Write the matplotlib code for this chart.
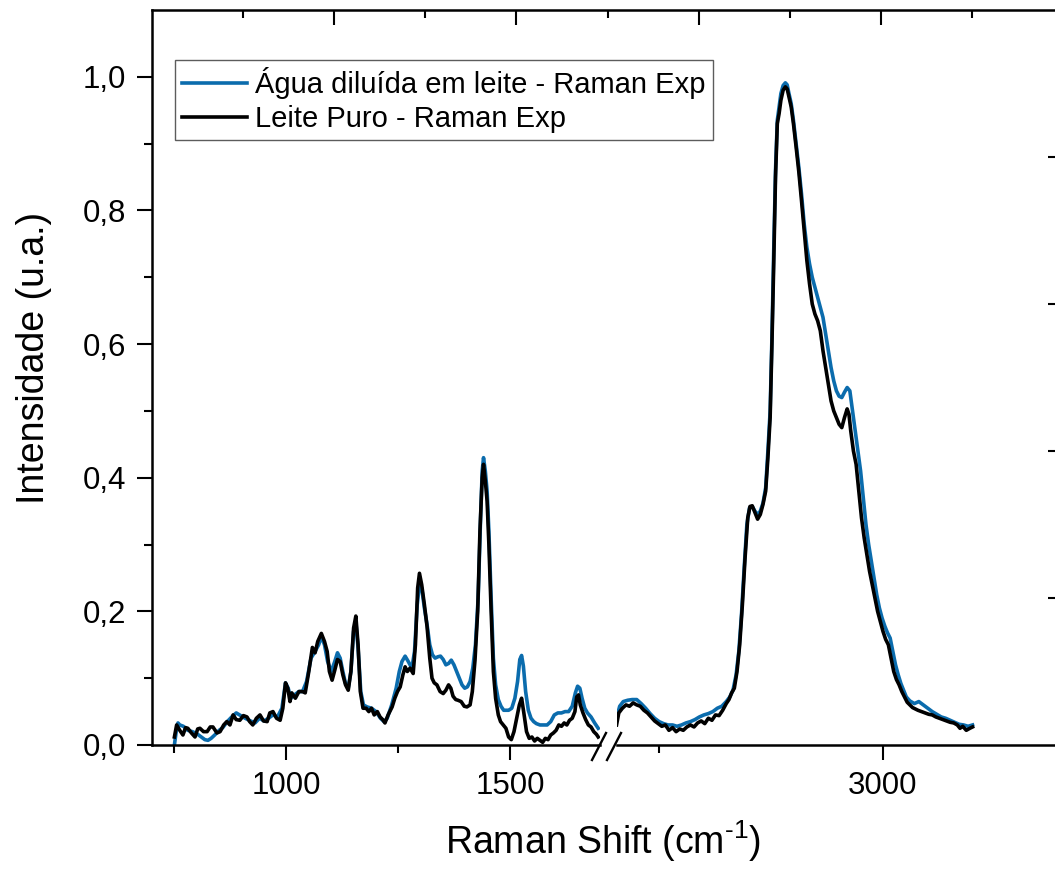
import matplotlib
matplotlib.use('Agg')
import matplotlib.pyplot as plt
from matplotlib.lines import Line2D
from matplotlib.ticker import FixedLocator, FixedFormatter

plt.rcParams['font.family'] = ['Liberation Sans', 'DejaVu Sans']
plt.rcParams['mathtext.fontset'] = 'custom'
plt.rcParams['mathtext.rm'] = 'Liberation Sans'
plt.rcParams['mathtext.it'] = 'Liberation Sans:italic'
plt.rcParams['axes.unicode_minus'] = False

# ---------------- data ----------------
label_agua = 'Água diluída em leite - Raman Exp'
label_leite = 'Leite Puro - Raman Exp'
xlabel = r'Raman Shift (cm$^{\text{-1}}$)'
ylabel = 'Intensidade (u.a.)'

# low-wavenumber region (cm-1)
agua_low_x = [750, 754, 758, 762, 770, 780, 790, 800, 810, 818, 825, 832, 840, 850, 858, 868, 878, 888,
              898, 908, 920, 930, 940, 950, 960, 970, 980, 990, 998, 1004, 1010, 1018, 1028, 1036, 1045,
              1055, 1064, 1072, 1078, 1085, 1092, 1100, 1108, 1114, 1120, 1126, 1132, 1138, 1144, 1150,
              1155, 1160, 1166, 1172, 1180, 1190, 1200, 1210, 1218, 1225, 1235, 1245, 1252, 1258, 1265,
              1272, 1280, 1286, 1292, 1297, 1302, 1308, 1314, 1320, 1326, 1332, 1338, 1344, 1350, 1356,
              1362, 1368, 1374, 1380, 1386, 1392, 1398, 1404, 1410, 1416, 1422, 1428, 1433, 1437, 1440,
              1444, 1448, 1452, 1457, 1462, 1467, 1473, 1479, 1485, 1490, 1496, 1503, 1510, 1516, 1521,
              1525, 1529, 1534, 1540, 1546, 1552, 1558, 1566, 1574, 1582, 1590, 1598, 1606, 1614, 1622,
              1630, 1638, 1645, 1650, 1655, 1660, 1666, 1672, 1680, 1688, 1696]
agua_low_y = [0.000, 0.020, 0.033, 0.030, 0.028, 0.022, 0.020, 0.017, 0.012, 0.008, 0.007, 0.010, 0.015,
              0.022, 0.026, 0.035, 0.042, 0.048, 0.044, 0.040, 0.036, 0.033, 0.040, 0.036, 0.040, 0.045,
              0.042, 0.055, 0.093, 0.085, 0.070, 0.075, 0.080, 0.080, 0.095, 0.130, 0.140, 0.150, 0.162,
              0.150, 0.125, 0.110, 0.125, 0.138, 0.130, 0.110, 0.092, 0.085, 0.110, 0.170, 0.185, 0.145,
              0.080, 0.060, 0.057, 0.055, 0.050, 0.040, 0.035, 0.040, 0.060, 0.085, 0.110, 0.125, 0.133,
              0.125, 0.115, 0.140, 0.210, 0.240, 0.235, 0.205, 0.180, 0.150, 0.135, 0.130, 0.132, 0.133,
              0.128, 0.120, 0.122, 0.127, 0.120, 0.110, 0.100, 0.090, 0.085, 0.087, 0.095, 0.115, 0.150,
              0.220, 0.330, 0.410, 0.430, 0.410, 0.380, 0.320, 0.220, 0.130, 0.090, 0.068, 0.058, 0.052,
              0.052, 0.052, 0.055, 0.070, 0.095, 0.128, 0.134, 0.118, 0.080, 0.052, 0.040, 0.035, 0.032,
              0.030, 0.030, 0.030, 0.035, 0.045, 0.048, 0.048, 0.050, 0.050, 0.058, 0.078, 0.088, 0.085,
              0.070, 0.055, 0.048, 0.042, 0.033, 0.025]

leite_low_x = [750, 755, 762, 769, 775, 780, 788, 796, 802, 807, 815, 823, 830, 836, 845, 852, 860, 867,
               874, 881, 888, 896, 904, 912, 918, 925, 933, 941, 949, 957, 963, 970, 978, 986, 992, 998,
               1003, 1008, 1012, 1020, 1028, 1036, 1042, 1050, 1058, 1064, 1070, 1078, 1085, 1091, 1096,
               1102, 1108, 1114, 1120, 1126, 1132, 1138, 1144, 1150, 1155, 1160, 1165, 1171, 1178, 1184,
               1190, 1196, 1203, 1209, 1215, 1220, 1227, 1236, 1242, 1248, 1254, 1260, 1265, 1270, 1276,
               1283, 1288, 1293, 1297, 1302, 1308, 1314, 1320, 1325, 1330, 1336, 1343, 1350, 1356, 1362,
               1367, 1372, 1378, 1383, 1390, 1397, 1403, 1410, 1415, 1421, 1427, 1432, 1437, 1440, 1444,
               1448, 1452, 1457, 1462, 1467, 1473, 1478, 1484, 1490, 1496, 1502, 1508, 1514, 1520, 1525,
               1530, 1536, 1542, 1548, 1554, 1560, 1566, 1572, 1578, 1584, 1590, 1596, 1602, 1608, 1614,
               1620, 1626, 1632, 1638, 1644, 1648, 1652, 1656, 1662, 1668, 1674, 1680, 1686, 1692, 1696]
leite_low_y = [0.012, 0.030, 0.022, 0.015, 0.026, 0.025, 0.018, 0.012, 0.024, 0.025, 0.020, 0.020, 0.027,
               0.027, 0.018, 0.020, 0.030, 0.035, 0.030, 0.045, 0.038, 0.037, 0.044, 0.042, 0.035, 0.030,
               0.040, 0.045, 0.036, 0.035, 0.048, 0.050, 0.040, 0.037, 0.055, 0.093, 0.085, 0.065, 0.078,
               0.070, 0.080, 0.080, 0.078, 0.110, 0.146, 0.138, 0.155, 0.167, 0.155, 0.140, 0.110, 0.097,
               0.112, 0.128, 0.125, 0.105, 0.090, 0.082, 0.110, 0.175, 0.193, 0.150, 0.080, 0.055, 0.055,
               0.050, 0.055, 0.045, 0.050, 0.042, 0.038, 0.033, 0.045, 0.057, 0.070, 0.080, 0.087, 0.105,
               0.117, 0.110, 0.115, 0.107, 0.150, 0.235, 0.257, 0.240, 0.210, 0.177, 0.130, 0.100, 0.093,
               0.090, 0.080, 0.077, 0.082, 0.090, 0.085, 0.073, 0.068, 0.067, 0.065, 0.058, 0.057, 0.060,
               0.080, 0.127, 0.200, 0.320, 0.400, 0.420, 0.395, 0.365, 0.300, 0.200, 0.110, 0.070, 0.045,
               0.035, 0.030, 0.025, 0.012, 0.008, 0.020, 0.040, 0.060, 0.070, 0.048, 0.020, 0.010, 0.012,
               0.006, 0.010, 0.007, 0.004, 0.010, 0.008, 0.015, 0.018, 0.022, 0.030, 0.028, 0.033, 0.030,
               0.037, 0.040, 0.050, 0.072, 0.075, 0.060, 0.048, 0.038, 0.030, 0.027, 0.020, 0.016, 0.012]

# high-wavenumber region (cm-1)
agua_high_x = [2405, 2412, 2420, 2430, 2440, 2450, 2460, 2470, 2480, 2490, 2500, 2510, 2520, 2530, 2540,
               2550, 2560, 2570, 2580, 2590, 2600, 2610, 2620, 2630, 2640, 2650, 2658, 2665, 2672, 2678,
               2684, 2690, 2696, 2702, 2708, 2714, 2720, 2726, 2732, 2738, 2743, 2748, 2752, 2756, 2760,
               2764, 2768, 2772, 2777, 2782, 2786, 2790, 2795, 2800, 2806, 2812, 2818, 2824, 2830, 2836,
               2842, 2848, 2854, 2860, 2866, 2872, 2878, 2884, 2890, 2896, 2902, 2908, 2914, 2920, 2926,
               2932, 2938, 2944, 2950, 2956, 2962, 2968, 2974, 2980, 2986, 2992, 2998, 3004, 3010, 3016,
               3022, 3028, 3034, 3040, 3046, 3052, 3060, 3070, 3080, 3090, 3100, 3110, 3120, 3130, 3140,
               3150, 3160, 3170, 3180, 3190, 3200]
agua_high_y = [0.040, 0.058, 0.065, 0.067, 0.068, 0.068, 0.062, 0.055, 0.047, 0.040, 0.035, 0.032, 0.030,
               0.030, 0.028, 0.030, 0.033, 0.035, 0.038, 0.042, 0.045, 0.047, 0.050, 0.055, 0.058, 0.065,
               0.072, 0.082, 0.105, 0.140, 0.195, 0.265, 0.330, 0.355, 0.357, 0.350, 0.345, 0.350, 0.362,
               0.385, 0.440, 0.500, 0.610, 0.740, 0.860, 0.935, 0.955, 0.975, 0.987, 0.991, 0.988, 0.975,
               0.960, 0.935, 0.900, 0.865, 0.825, 0.780, 0.745, 0.720, 0.700, 0.685, 0.670, 0.655, 0.640,
               0.615, 0.590, 0.565, 0.545, 0.530, 0.522, 0.520, 0.528, 0.535, 0.530, 0.500, 0.470, 0.440,
               0.410, 0.370, 0.330, 0.300, 0.275, 0.250, 0.225, 0.205, 0.190, 0.178, 0.168, 0.160, 0.140,
               0.120, 0.105, 0.092, 0.082, 0.072, 0.066, 0.062, 0.065, 0.060, 0.055, 0.050, 0.046, 0.042,
               0.040, 0.037, 0.034, 0.031, 0.030, 0.028, 0.030]

leite_high_x = [2405, 2410, 2418, 2426, 2434, 2442, 2450, 2458, 2466, 2474, 2482, 2490, 2498, 2506, 2514,
                2522, 2530, 2538, 2546, 2554, 2562, 2570, 2578, 2586, 2594, 2602, 2610, 2618, 2626, 2634,
                2642, 2650, 2656, 2662, 2668, 2674, 2680, 2686, 2692, 2698, 2703, 2708, 2714, 2720, 2726,
                2732, 2738, 2743, 2748, 2752, 2756, 2760, 2764, 2768, 2772, 2777, 2782, 2786, 2790, 2795,
                2800, 2806, 2812, 2818, 2824, 2830, 2836, 2842, 2848, 2854, 2860, 2866, 2872, 2878, 2884,
                2890, 2896, 2902, 2908, 2914, 2920, 2924, 2928, 2934, 2940, 2946, 2952, 2958, 2964, 2970,
                2976, 2982, 2988, 2994, 3000, 3006, 3012, 3018, 3024, 3030, 3036, 3042, 3048, 3054, 3060,
                3066, 3072, 3078, 3086, 3094, 3102, 3110, 3118, 3126, 3134, 3142, 3150, 3158, 3166, 3172,
                3178, 3186, 3194, 3200]
leite_high_y = [0.030, 0.048, 0.055, 0.060, 0.058, 0.063, 0.060, 0.058, 0.052, 0.048, 0.042, 0.036, 0.032,
                0.028, 0.030, 0.022, 0.026, 0.020, 0.024, 0.022, 0.027, 0.030, 0.027, 0.033, 0.036, 0.032,
                0.040, 0.037, 0.045, 0.044, 0.052, 0.062, 0.068, 0.078, 0.085, 0.110, 0.150, 0.210, 0.280,
                0.340, 0.357, 0.358, 0.348, 0.338, 0.345, 0.360, 0.380, 0.430, 0.490, 0.600, 0.720, 0.850,
                0.930, 0.945, 0.965, 0.980, 0.985, 0.982, 0.970, 0.955, 0.930, 0.895, 0.858, 0.815, 0.770,
                0.725, 0.690, 0.660, 0.645, 0.635, 0.620, 0.590, 0.565, 0.540, 0.515, 0.500, 0.490, 0.480,
                0.475, 0.490, 0.503, 0.495, 0.470, 0.440, 0.420, 0.380, 0.340, 0.310, 0.285, 0.260, 0.240,
                0.220, 0.200, 0.185, 0.170, 0.158, 0.150, 0.130, 0.110, 0.098, 0.090, 0.080, 0.072, 0.064,
                0.060, 0.056, 0.054, 0.052, 0.050, 0.048, 0.046, 0.045, 0.042, 0.040, 0.038, 0.036, 0.034,
                0.033, 0.030, 0.025, 0.028, 0.022, 0.025, 0.027]

y_ticks = [0.0, 0.2, 0.4, 0.6, 0.8, 1.0]
y_tick_labels = ['0,0', '0,2', '0,4', '0,6', '0,8', '1,0']
low_major = [1000, 1500]
low_minor = [750, 1250]
high_major = [3000]
high_minor = [2500]

# ---------------- layout ----------------
W, H = 1055, 874
def fx(px):
    return px / W
def fy(py):
    return 1 - py / H

blue = '#0B6CAD'
lw = 2.6
fig = plt.figure(figsize=(W / 100, H / 100), dpi=100)

top_px, bot_px = 10, 745
axL = fig.add_axes([fx(152), fy(bot_px), fx(600) - fx(152), fy(top_px) - fy(bot_px)])
axR = fig.add_axes([fx(617), fy(bot_px), fx(1063) - fx(617), fy(top_px) - fy(bot_px)])
axT = fig.add_axes([fx(152), fy(bot_px), fx(1056) - fx(152), fy(top_px) - fy(bot_px)])

for ax in (axL, axR, axT):
    ax.set_facecolor('none')
    ax.set_ylim(0, 1.1)

axL.plot(agua_low_x, agua_low_y, color=blue, lw=lw, zorder=2)
axL.plot(leite_low_x, leite_low_y, color='black', lw=lw, zorder=3)
axR.plot(agua_high_x, agua_high_y, color=blue, lw=lw, zorder=2)
axR.plot(leite_high_x, leite_high_y, color='black', lw=lw, zorder=3)

axL.set_xlim(700, 1700)
axR.set_xlim(2406, 3402)

spw = 1.8
for ax in (axL, axR):
    ax.spines['top'].set_visible(False)
    ax.spines['right'].set_visible(False)
    ax.spines['bottom'].set_linewidth(spw)
    ax.spines['left'].set_linewidth(spw)
axR.spines['left'].set_visible(False)

axL.xaxis.set_major_locator(FixedLocator(low_major))
axL.xaxis.set_minor_locator(FixedLocator(low_minor))
axR.xaxis.set_major_locator(FixedLocator(high_major))
axR.xaxis.set_minor_locator(FixedLocator(high_minor))
axL.yaxis.set_major_locator(FixedLocator(y_ticks))
axL.yaxis.set_major_formatter(FixedFormatter(y_tick_labels))
axL.yaxis.set_minor_locator(FixedLocator([0.1, 0.3, 0.5, 0.7, 0.9]))
axR.set_yticks([])

for ax in (axL, axR):
    ax.tick_params(axis='both', which='major', direction='out', length=10.5, width=1.5,
                   labelsize=22.5, pad=8)
    ax.tick_params(axis='both', which='minor', direction='out', length=5.5, width=1.5)

# overlay axes for top and right tick marks
axT.set_xlim(0, 904 / 91.1)
axT.set_ylim(0, 1)
axT.spines['bottom'].set_visible(False)
axT.spines['left'].set_visible(False)
axT.spines['right'].set_visible(False)
axT.spines['top'].set_linewidth(spw)
axT.xaxis.tick_top()
axT.yaxis.tick_right()
axT.xaxis.set_major_locator(FixedLocator([2, 4, 6, 8]))
axT.xaxis.set_minor_locator(FixedLocator([1, 3, 5, 7, 9]))
axT.yaxis.set_major_locator(FixedLocator([0.2, 0.4, 0.6, 0.8]))
axT.tick_params(axis='x', which='major', direction='in', length=10.5, width=1.5, labeltop=False)
axT.tick_params(axis='x', which='minor', direction='in', length=5.5, width=1.5)
axT.tick_params(axis='y', which='major', direction='in', length=5.5, width=1.5, labelright=False)

# break marks
for x0 in (592, 607):
    fig.add_artist(Line2D([fx(x0), fx(x0 + 14)], [fy(760), fy(733)], transform=fig.transFigure,
                          color='black', lw=1.7))

# axis labels
fig.text(fx(603), fy(854), xlabel, ha='center', va='baseline', fontsize=27)
fig.text(fx(44), fy(358), ylabel, ha='center', va='baseline', rotation=90, fontsize=27,
         rotation_mode='anchor')

# legend
handles = [Line2D([], [], color=blue, lw=lw), Line2D([], [], color='black', lw=lw)]
leg = fig.legend(handles, [label_agua, label_leite], loc='upper left',
                 bbox_to_anchor=(fx(175), fy(60)), bbox_transform=fig.transFigure,
                 fontsize=21, frameon=True, fancybox=False, borderaxespad=0,
                 handlelength=2.23, handletextpad=0.27, borderpad=0.25, labelspacing=0.19)
leg.get_frame().set_edgecolor('#333333')
leg.get_frame().set_linewidth(1.0)

fig.savefig('out.png', dpi=100)
